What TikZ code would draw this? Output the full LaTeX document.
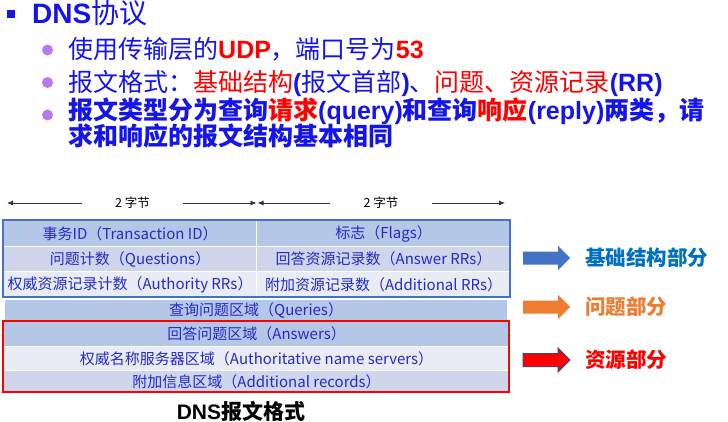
\documentclass[tikz,border=0pt]{standalone}
\usepackage{fontspec}
\setmainfont{Liberation Sans}
\newfontfamily\cjk{Noto Sans CJK SC}
\usetikzlibrary{arrows.meta}

\definecolor{headblue}{RGB}{20,20,235}
\definecolor{hotred}{RGB}{255,0,0}
\definecolor{dotpurple}{RGB}{184,120,240}
\definecolor{tabtext}{RGB}{36,42,205}
\definecolor{fillA}{HTML}{B4C7E7}
\definecolor{fillB}{HTML}{CFD5EA}
\definecolor{fillC}{HTML}{E9EBF5}
\definecolor{frameblue}{HTML}{4472C4}
\definecolor{arrowblue}{HTML}{4472C4}
\definecolor{arroworange}{HTML}{ED7D31}
\definecolor{labelblue}{HTML}{0070C0}
\definecolor{darkoutline}{HTML}{2F4A8A}

\newcommand{\zh}[1]{{\cjk #1}}
\newcommand{\rd}[1]{\textcolor{hotred}{#1}}

\begin{document}
\begin{tikzpicture}[x=1pt,y=-1pt,
  bigtext/.style={anchor=base west, inner sep=0pt, text=headblue,
    font=\fontsize{25}{25}\selectfont},
  dot/.style={circle, fill=dotpurple, minimum size=11pt, inner sep=0pt},
  cell/.style={draw=white, line width=1.2pt, anchor=north west, inner sep=0pt,
    text=tabtext, font=\cjk\fontsize{15}{15}\selectfont},
  span/.style={inner sep=0pt, minimum height=12pt, font=\cjk\fontsize{12.5}{12.5}\selectfont},
  dim/.style={draw=black!80, line width=0.8pt, -{Latex[length=6pt,width=5pt]}},
  sidelabel/.style={anchor=west, inner sep=0pt, font=\cjk\bfseries\fontsize{20.5}{20.5}\selectfont},
  blockarrow/.pic={\path[pic actions] (0,-6.5) -- (35,-6.5) -- (35,-12) -- (47,0)
    -- (35,12) -- (35,6.5) -- (0,6.5) -- cycle;}]

\useasboundingbox[fill=white] (0,0) rectangle (728,422);

% heading and bullet points
\node[fill=headblue, minimum size=8pt, inner sep=0pt] (sq) at (11,14) {};
\node[bigtext, font=\fontsize{28}{28}\selectfont] (title) at (32,23.5)
  {\bfseries DNS\mdseries\zh{协议}};

\node[dot] (d1) at (47.5,50) {};
\node[dot] (d2) at (47.5,82.5) {};
\node[dot] (d3) at (47.5,115) {};

\node[bigtext] (t1) at (68,59)
  {\zh{使用传输层的}\rd{\bfseries UDP}\zh{，端口号为}\rd{\bfseries 53}};
\node[bigtext] (t2) at (68,92)
  {\zh{报文格式：}\rd{\zh{基础结构}}\textbf{(}\zh{报文首部}\textbf{)}\zh{、}\rd{\zh{问题、资源记录}}\textbf{(RR)}};
\node[bigtext, font=\bfseries\fontsize{25}{25}\selectfont] (t3) at (68,120)
  {\zh{报文类型分为查询}\rd{\zh{请求}}(query)\zh{和查询}\rd{\zh{响应}}(reply)\zh{两类，请}};
\node[bigtext, font=\bfseries\fontsize{25}{25}\selectfont] (t4) at (68,146)
  {\zh{求和响应的报文结构基本相同}};

% width markers above the header
\node[span, minimum width=101pt] (w1) at (132.5,203) {2 字节};
\node[span, minimum width=102pt] (w2) at (381,203) {2 字节};
\coordinate (e1) at (7,203);
\coordinate (e2) at (256.5,203);
\coordinate (e3) at (257.5,203);
\coordinate (e4) at (505,203);
\draw[dim] (w1) -- (e1);
\draw[dim] (w1) -- (e2);
\draw[dim] (w2) -- (e3);
\draw[dim] (w2) -- (e4);

% header fields
\node[cell, fill=fillA, minimum width=253pt, minimum height=26pt] (tid) at (3,220) {事务ID（Transaction ID）};
\node[cell, fill=fillA, minimum width=254pt, minimum height=26pt] (flg) at (256,220) {标志（Flags）};
\node[cell, fill=fillB, minimum width=253pt, minimum height=25pt] (qn) at (3,246) {问题计数（Questions）};
\node[cell, fill=fillB, minimum width=254pt, minimum height=25pt] (an) at (256,246) {回答资源记录数（Answer RRs）};
\node[cell, fill=fillC, minimum width=253pt, minimum height=26pt] (au) at (3,271) {权威资源记录计数（Authority RRs）};
\node[cell, fill=fillC, minimum width=254pt, minimum height=26pt] (ad) at (256,271) {附加资源记录数（Additional RRs）};
\draw[frameblue, line width=2pt] (3,220) rectangle (510,297);

% question section
\node[cell, fill=fillA, minimum width=503pt, minimum height=21pt] (qs) at (4,299) {查询问题区域（Queries）};

% resource record sections
\node[cell, fill=fillA, minimum width=506pt, minimum height=25pt] (ans) at (3,321) {回答问题区域（Answers）};
\node[cell, fill=fillC, minimum width=506pt, minimum height=24pt] (ns) at (3,346) {权威名称服务器区域（Authoritative name servers）};
\node[cell, fill=fillB, minimum width=506pt, minimum height=22pt] (ar) at (3,370) {附加信息区域（Additional records）};
\draw[hotred, line width=2pt] (3,321) rectangle (509,392);

% caption
\node[inner sep=0pt, font=\bfseries\fontsize{21}{21}\selectfont] (cap) at (241,411) {DNS\zh{报文格式}};

% section legend
\pic[fill=arrowblue] at (523,258) {blockarrow};
\pic[fill=arroworange] at (523,307) {blockarrow};
\pic[fill=hotred, draw=darkoutline, line width=1pt] at (523,360) {blockarrow};
\node[sidelabel, text=labelblue] (lb1) at (585,258) {基础结构部分};
\node[sidelabel, text=arroworange] (lb2) at (585,307) {问题部分};
\node[sidelabel, text=hotred] (lb3) at (585,360) {资源部分};

\end{tikzpicture}
\end{document}
